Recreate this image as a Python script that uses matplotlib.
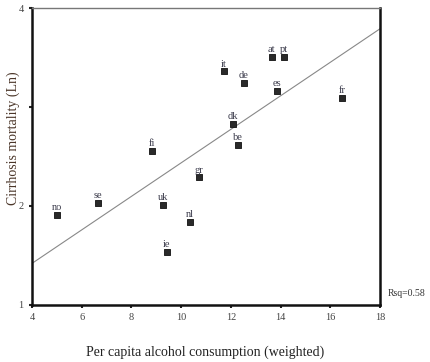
import numpy as np
import matplotlib.pyplot as plt

plt.rcParams['font.family'] = ['Liberation Serif', 'DejaVu Serif']

# Datos
paises = ['no', 'se', 'uk', 'nl', 'ie', 'fi', 'gr', 'it', 'de', 'at', 'pt', 'es', 'fr', 'dk', 'be']
consumo = np.array([5.0, 6.65, 9.27, 10.36, 9.43, 8.83, 10.72, 11.72, 12.53, 13.65, 14.14, 13.86, 16.47, 12.09, 12.29])
mortalidad = np.array([1.91, 2.03, 2.01, 1.84, 1.54, 2.56, 2.29, 3.36, 3.24, 3.51, 3.51, 3.16, 3.09, 2.83, 2.62])

# Recta de ajuste
ajuste_x = np.array([4, 18])
ajuste_y = np.array([1.42, 3.79])

fig = plt.figure(figsize=(4.3, 3.62), dpi=100)
ax = fig.add_axes([0.0744, 0.1575, 0.8093, 0.8204])

ax.plot(ajuste_x, ajuste_y, color='#888888', linewidth=0.8)
ax.scatter(consumo, mortalidad, marker='s', s=14, color='#2a2a2a',
           edgecolors='#111111', linewidths=0.6, zorder=3)
for nombre, x, y in zip(paises, consumo, mortalidad):
    ax.annotate(nombre, (x, y), xytext=(0, 2), textcoords='offset points',
                ha='center', va='bottom', fontsize=7.5, color='#3a3a4a')

ax.set_xlim(4, 18)
ax.set_ylim(1, 4)
ax.set_xticks([4, 6, 8, 10, 12, 14, 16, 18])
ax.set_yticks([1, 2, 3, 4])
ax.set_yticklabels(['1', '2', '', '4'])
ax.tick_params(direction='out', length=2, width=1.5, labelsize=7.5, colors='#222222', labelcolor='#444444', pad=4)

for lado in ['left', 'bottom', 'right']:
    ax.spines[lado].set_linewidth(1.8)
    ax.spines[lado].set_color('#111111')
ax.spines['top'].set_linewidth(1.0)
ax.spines['top'].set_color('#777777')

ax.set_xlabel('Per capita alcohol consumption (weighted)', fontsize=10, color='#222222')
ax.xaxis.set_label_coords(0.497, -0.135)
ax.set_ylabel('Cirrhosis mortality (Ln)', fontsize=10, color='#4a3528')
ax.yaxis.set_label_coords(-0.035, 0.562)

fig.text(0.902, 0.19, 'Rsq=0.58', fontsize=7, color='#333333', ha='left', va='center')

plt.savefig('out.png', dpi=100)
